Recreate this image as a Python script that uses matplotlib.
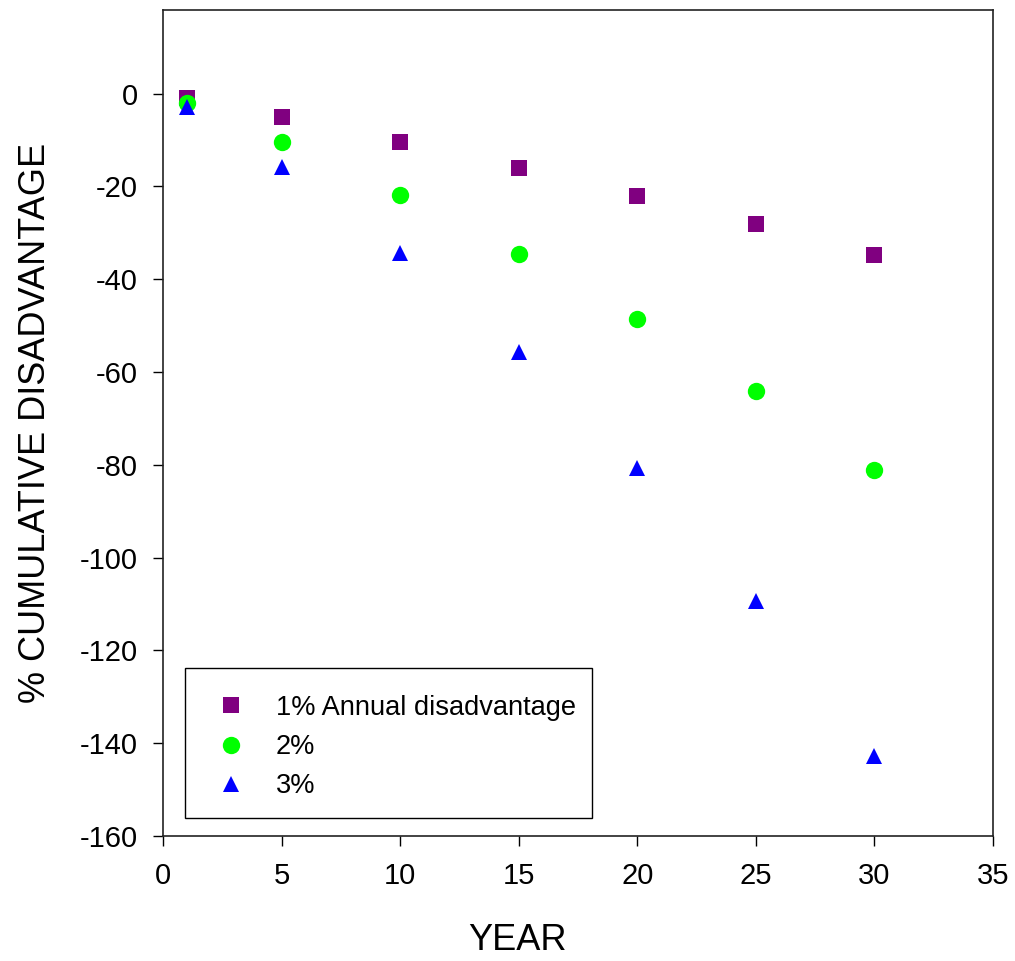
import matplotlib
matplotlib.use("Agg")
import matplotlib.pyplot as plt
from matplotlib.patches import Rectangle

plt.rcParams['font.family'] = ['Liberation Sans', 'DejaVu Sans']
plt.rcParams['axes.unicode_minus'] = False

years = [1, 5, 10, 15, 20, 25, 30]
series_labels = ["1% Annual disadvantage", "2%", "3%"]
values_1pct = [-1.0, -5.1, -10.5, -16.1, -22.0, -28.2, -34.8]
values_2pct = [-2.0, -10.4, -21.9, -34.6, -48.6, -64.1, -81.1]
values_3pct = [-3.0, -15.9, -34.4, -55.8, -80.6, -109.4, -142.7]
x_ticks = [0, 5, 10, 15, 20, 25, 30, 35]
y_ticks = [0, -20, -40, -60, -80, -100, -120, -140, -160]

W, H = 1015, 961
fig = plt.figure(figsize=(W/100, H/100), dpi=100)
ax = fig.add_axes([163/W, 1-836/H, 830/W, 826/H])

ax.plot(years, values_1pct, linestyle='none', marker='s', markersize=11,
        color='#800080', markeredgewidth=0, label=series_labels[0])
ax.plot(years, values_2pct, linestyle='none', marker='o', markersize=12.5,
        color='#00FF00', markeredgewidth=0, label=series_labels[1])
ax.plot(years, values_3pct, linestyle='none', marker='^', markersize=12,
        color='#0000FF', markeredgewidth=0, label=series_labels[2])

ax.set_xlim(0, 35)
ax.set_ylim(-160, 18)
ax.set_xticks(x_ticks)
ax.set_yticks(y_ticks)
ax.tick_params(axis='both', direction='out', length=7, width=1, labelsize=21,
               color='black')
ax.tick_params(axis='x', pad=12)
ax.tick_params(axis='y', pad=11)
for s in ax.spines.values():
    s.set_linewidth(1.2)
    s.set_color('#222222')

ax.set_xlabel("YEAR", fontsize=26)
ax.set_ylabel("% CUMULATIVE DISADVANTAGE", fontsize=26)
ax.xaxis.label.set_va('center')
ax.yaxis.label.set_va('center')
ax.xaxis.set_label_coords((517-163)/830, (836-941)/826)
ax.yaxis.set_label_coords((36-163)/830, 0.5)

# legend frame
fig.patches.append(Rectangle((185/W, 1-818/H), (592-185)/W, (818-668)/H,
                             transform=fig.transFigure, fill=False,
                             edgecolor='black', linewidth=1.0, zorder=5))
leg = ax.legend(loc='upper left', bbox_to_anchor=(204/W, 1-695/H),
                bbox_transform=fig.transFigure, borderaxespad=0,
                fontsize=19.6, numpoints=1, frameon=False, borderpad=0,
                handlelength=2.0, handletextpad=0.64, labelspacing=0.48)

fig.savefig("out.png", dpi=100)
